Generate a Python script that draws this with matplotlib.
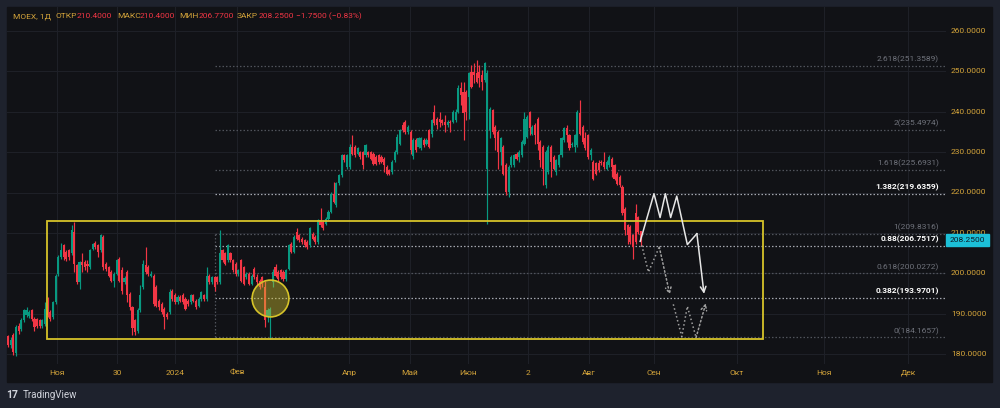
import numpy as np
import matplotlib
matplotlib.use("Agg")
import matplotlib.pyplot as plt
from matplotlib.patches import Rectangle
from matplotlib.transforms import blended_transform_factory

plt.rcParams['font.family'] = ['Roboto', 'DejaVu Sans']

# --- daily candles MOEX ---
opens = [184.4, 182.2, 184.6, 180.3, 187.0, 186.2, 188.3, 189.6, 189.5, 190.8,
         188.7, 188.7, 188.3, 187.0, 187.5, 190.8, 190.4, 189.1, 192.8, 199.9,
         204.0, 206.9, 205.3, 205.7, 204.9, 210.2, 202.0, 197.8, 202.8, 202.8,
         202.4, 201.5, 206.1, 207.6, 206.9, 205.7, 209.0, 202.4, 201.5, 200.3,
         198.2, 199.9, 203.6, 200.7, 197.8, 200.3, 194.9, 191.6, 188.3, 185.8,
         190.8, 196.6, 202.0, 201.5, 199.4, 199.4, 196.6, 193.2, 192.4, 191.2,
         190.0, 190.4, 195.7, 194.5, 192.8, 194.1, 194.5, 193.7, 193.2, 192.8,
         194.5, 193.2, 192.0, 193.7, 194.5, 193.7, 199.4, 197.8, 199.0, 199.0,
         197.8, 205.7, 204.9, 203.2, 204.9, 203.2, 202.4, 199.9, 203.2, 201.5,
         199.0, 199.9, 197.4, 201.1, 199.0, 198.2, 199.0, 196.6, 189.1, 189.5,
         197.8, 201.5, 200.3, 200.7, 200.3, 198.6, 201.1, 207.3, 205.3, 210.2,
         209.4, 208.6, 208.2, 207.7, 206.9, 209.8, 209.0, 207.7, 213.1, 212.7,
         212.3, 213.5, 215.2, 219.7, 216.9, 222.3, 224.3, 229.2, 226.3, 226.3,
         231.3, 231.3, 229.6, 230.0, 230.0, 229.2, 230.0, 230.0, 229.6, 228.8,
         229.2, 228.8, 228.4, 226.3, 225.5, 225.1, 228.0, 230.1, 232.1, 236.7,
         237.5, 235.0, 235.0, 229.0, 232.9, 231.3, 230.9, 232.9, 232.1, 235.4,
         234.6, 240.0, 238.3, 238.3, 237.9, 237.5, 236.7, 237.5, 237.5, 237.9,
         240.0, 245.8, 244.9, 244.9, 243.7, 249.9, 249.9, 249.5, 249.9, 249.1,
         247.8, 225.9, 235.4, 240.4, 236.3, 235.0, 230.1, 231.3, 226.8, 220.1,
         226.8, 226.8, 229.6, 228.8, 229.2, 232.1, 233.8, 240.0, 234.6, 236.7,
         238.3, 232.5, 231.3, 221.8, 225.1, 231.3, 228.8, 225.1, 226.7, 229.2,
         233.0, 235.9, 234.2, 231.7, 231.3, 231.7, 239.6, 236.3, 233.4, 234.2,
         229.2, 227.6, 227.2, 227.2, 227.6, 227.6, 225.9, 226.7, 228.4, 226.7,
         224.7, 223.9, 221.4, 216.0, 211.9, 211.5, 209.4, 214.8, 213.9, 210.4]
highs = [184.8, 184.2, 185.2, 187.3, 187.6, 188.8, 191.2, 191.6, 191.0, 191.2,
         189.2, 189.0, 188.6, 188.7, 192.8, 194.0, 191.0, 193.2, 199.8, 204.5,
         207.6, 207.3, 205.8, 206.1, 211.9, 212.7, 202.4, 203.0, 205.0, 203.2,
         203.2, 206.1, 207.6, 208.1, 207.2, 209.8, 209.4, 202.8, 201.8, 200.8,
         200.3, 203.6, 204.0, 201.5, 199.2, 200.7, 195.3, 192.0, 188.7, 191.4,
         197.0, 203.2, 206.5, 202.0, 200.5, 199.9, 197.0, 193.6, 192.8, 191.6,
         190.4, 196.2, 196.2, 195.0, 194.5, 194.5, 195.0, 194.1, 193.6, 194.9,
         194.9, 193.6, 194.1, 195.7, 194.9, 201.5, 199.9, 199.4, 199.4, 199.4,
         210.6, 206.1, 205.3, 207.3, 205.3, 203.6, 202.8, 201.1, 203.6, 201.9,
         200.3, 200.3, 199.9, 201.5, 199.9, 198.6, 199.4, 198.2, 191.4, 191.6,
         201.1, 202.4, 200.7, 201.1, 200.7, 201.1, 207.3, 207.7, 209.4, 211.1,
         209.8, 209.0, 208.6, 208.2, 211.5, 210.2, 209.4, 213.5, 216.1, 213.1,
         213.9, 215.6, 220.2, 222.6, 222.6, 224.7, 229.6, 229.6, 229.6, 232.1,
         234.2, 231.7, 231.3, 230.4, 230.4, 232.1, 230.4, 230.4, 230.0, 229.2,
         229.6, 229.2, 228.8, 226.8, 225.9, 228.0, 230.5, 234.6, 235.8, 237.5,
         237.9, 236.7, 235.4, 233.4, 233.4, 233.8, 233.8, 233.4, 233.4, 235.8,
         238.3, 241.6, 238.7, 240.0, 238.3, 239.2, 237.9, 237.9, 240.4, 240.8,
         246.6, 247.4, 247.4, 245.4, 249.9, 251.6, 252.0, 252.8, 251.6, 250.3,
         252.4, 250.3, 241.2, 240.8, 236.7, 235.4, 233.8, 231.7, 227.2, 226.8,
         229.2, 229.6, 230.1, 230.5, 232.9, 240.0, 239.1, 240.2, 236.7, 237.1,
         238.7, 232.9, 231.7, 230.5, 231.7, 231.7, 229.2, 228.4, 229.6, 233.8,
         236.3, 236.7, 234.6, 232.5, 234.6, 240.4, 242.9, 236.7, 235.0, 234.6,
         230.9, 228.0, 227.6, 228.0, 228.0, 230.1, 228.0, 229.2, 228.8, 227.1,
         225.1, 224.3, 221.8, 216.4, 212.3, 211.9, 209.8, 217.2, 214.3, 210.4]
lows = [181.8, 181.5, 179.8, 179.6, 185.0, 185.6, 188.0, 189.2, 189.0, 188.2,
        185.8, 186.5, 186.4, 186.5, 187.0, 189.1, 188.2, 188.7, 192.4, 199.4,
        203.6, 203.4, 203.0, 203.2, 204.5, 200.3, 197.4, 196.0, 200.3, 200.8,
        200.3, 201.0, 205.8, 206.0, 204.0, 205.3, 200.7, 200.6, 199.0, 197.9,
        196.6, 199.5, 197.8, 194.9, 197.4, 192.8, 190.8, 184.6, 184.6, 185.2,
        190.4, 196.0, 199.9, 199.4, 199.0, 192.0, 191.6, 191.0, 190.0, 186.2,
        188.7, 190.0, 193.2, 192.4, 192.4, 192.8, 192.4, 190.8, 192.0, 192.4,
        192.8, 191.2, 191.6, 193.2, 193.2, 193.2, 197.4, 197.4, 195.7, 197.4,
        197.4, 202.8, 202.0, 202.8, 202.8, 200.3, 199.4, 199.4, 197.8, 197.0,
        198.6, 197.0, 197.0, 198.6, 197.0, 196.0, 196.6, 186.6, 188.0, 183.6,
        196.6, 199.0, 198.2, 198.6, 198.2, 198.2, 200.7, 204.9, 204.9, 208.2,
        207.7, 207.3, 206.5, 206.1, 206.5, 208.2, 207.3, 207.3, 211.5, 210.6,
        211.9, 213.1, 214.8, 217.3, 216.5, 221.9, 223.9, 227.6, 225.9, 225.9,
        229.2, 228.8, 229.2, 228.4, 225.9, 228.8, 228.8, 228.0, 226.7, 226.7,
        227.1, 227.2, 225.1, 224.3, 224.3, 224.7, 227.6, 229.6, 231.7, 235.0,
        234.6, 234.6, 229.6, 228.4, 230.1, 230.9, 230.5, 231.3, 231.7, 230.9,
        233.8, 236.7, 235.8, 236.3, 236.7, 235.0, 236.3, 235.0, 237.1, 237.5,
        239.6, 241.6, 233.0, 238.0, 238.3, 245.8, 247.0, 247.0, 246.2, 245.4,
        247.4, 212.3, 233.4, 234.6, 230.5, 225.9, 226.8, 224.3, 219.3, 218.9,
        226.3, 226.3, 228.0, 227.6, 228.8, 231.7, 233.4, 234.2, 234.2, 232.1,
        230.5, 226.3, 221.8, 221.0, 224.7, 223.9, 225.5, 224.3, 226.3, 228.8,
        232.5, 232.5, 230.5, 231.3, 230.1, 231.3, 234.2, 232.1, 230.5, 228.4,
        228.0, 223.0, 224.3, 225.1, 226.7, 225.9, 225.5, 226.3, 223.9, 223.0,
        221.8, 221.4, 214.4, 209.4, 207.3, 207.3, 203.6, 207.3, 209.8, 206.77]
closes = [182.2, 183.5, 180.6, 186.6, 185.6, 188.3, 190.8, 190.8, 190.4, 188.7,
          186.6, 187.0, 187.0, 188.3, 191.2, 189.6, 188.7, 192.8, 199.4, 204.0,
          205.7, 204.0, 203.6, 204.0, 210.6, 202.4, 197.8, 202.8, 202.0, 201.5,
          201.9, 205.7, 207.3, 206.5, 205.3, 209.4, 201.5, 201.1, 199.4, 198.2,
          199.9, 203.2, 198.2, 195.7, 198.7, 194.5, 191.6, 186.4, 185.4, 190.8,
          194.5, 202.4, 200.3, 199.9, 199.9, 192.4, 192.0, 191.6, 190.4, 189.1,
          189.1, 195.3, 193.7, 192.8, 194.1, 193.2, 192.8, 191.2, 192.4, 194.5,
          193.2, 191.6, 193.7, 195.3, 193.7, 199.4, 197.8, 199.0, 196.6, 197.8,
          204.9, 203.2, 202.4, 206.9, 203.2, 200.7, 199.9, 200.7, 198.2, 197.4,
          199.9, 197.4, 199.4, 199.0, 197.8, 196.6, 197.4, 188.3, 190.8, 191.2,
          200.3, 199.4, 198.6, 199.0, 198.6, 200.7, 206.9, 205.3, 209.0, 208.6,
          208.2, 207.7, 206.9, 206.5, 211.1, 208.6, 207.7, 213.1, 211.9, 211.1,
          213.5, 215.2, 219.7, 217.7, 222.3, 224.3, 229.2, 228.0, 229.2, 231.3,
          229.6, 229.2, 230.9, 228.8, 226.7, 231.7, 229.2, 228.4, 227.1, 227.1,
          227.6, 227.6, 226.8, 224.7, 224.7, 227.6, 230.1, 233.8, 235.4, 235.4,
          235.0, 236.3, 230.5, 232.9, 230.5, 233.4, 233.4, 231.7, 232.9, 231.3,
          237.9, 237.1, 236.7, 237.5, 237.1, 236.7, 237.5, 237.1, 240.0, 240.0,
          245.8, 244.1, 239.6, 240.0, 249.5, 246.2, 249.1, 247.4, 248.3, 247.4,
          252.0, 249.5, 240.8, 235.0, 233.4, 230.1, 233.4, 224.7, 220.1, 226.3,
          228.8, 229.2, 228.4, 230.1, 232.5, 238.3, 238.7, 235.9, 236.3, 234.2,
          232.1, 228.0, 225.9, 230.1, 231.3, 227.6, 225.9, 228.0, 229.2, 233.4,
          235.9, 234.2, 230.9, 232.1, 234.2, 239.9, 234.6, 232.5, 230.9, 228.8,
          230.5, 223.4, 224.7, 225.5, 227.2, 226.3, 227.6, 228.8, 226.3, 223.4,
          222.2, 221.8, 214.8, 210.6, 209.4, 207.7, 206.5, 207.7, 210.2, 208.25]

price_ticks = [180, 190, 200, 210, 220, 230, 240, 250, 260]
time_labels = ['Ноя', '30', '2024', 'Фев', 'Апр', 'Май', 'Июн', '2', 'Авг', 'Сен', 'Окт', 'Ноя', 'Дек']
time_label_px = [57, 117, 175, 237, 349, 410, 468, 528, 589, 654, 737, 824, 908]

fib_ratios = ['0', '0.382', '0.618', '0.88', '1', '1.382', '1.618', '2', '2.618']
fib_prices = [184.1657, 193.9701, 200.0272, 206.7517, 209.8316, 219.6359, 225.6931, 235.4974, 251.3589]
fib_hot = ['0.382', '0.88', '1.382']

# drawings: x in bars after the last candle, y in price
solid_x = [-0.3, 4.9, 7.2, 9.2, 11.2, 13.5, 17.5, 21.1, 23.8]
solid_y = [207.9, 219.7, 213.8, 219.7, 213.8, 219.1, 207.1, 209.8, 194.9]
dot1_x = [0.3, 2.8, 6.9, 10.9]
dot1_y = [206.9, 200.3, 206.5, 194.7]
dot2_x = [12.2, 15.4, 17.5, 20.8, 24.5]
dot2_y = [192.3, 184.3, 191.8, 184.1, 192.6]

box_prices = (183.6, 212.85)
last_price = 208.25

# --- layout (pixels of the 1000x408 picture) ---
W, H = 1000, 408
N = len(closes)
X0, XN = 8, 641               # pixel of first / last candle
DX = (XN - X0) / (N - 1)
PY260, PXPU = 31, 4.0375      # y pixel of 260 and pixels per price unit


def px2bar(p):
    return (p - X0) / DX


def py2price(p):
    return 260 - (p - PY260) / PXPU


def fx(p):
    return p / W


def fy(p):
    return 1 - p / H


outer_bg = '#1e222d'
chart_bg = '#111216'
grid_c = '#1e2027'
gold = '#d4a43a'
red = '#f23645'
green = '#089981'
yellow = '#d6c329'

fig = plt.figure(figsize=(W / 100, H / 100), dpi=100, facecolor=outer_bg)
fig.patches.append(Rectangle((fx(7), fy(382)), fx(992) - fx(7), fy(7) - fy(382),
                             transform=fig.transFigure, color=chart_bg, zorder=-10))

ax = fig.add_axes([fx(7), fy(364), fx(946) - fx(7), fy(7) - fy(364)])
ax.set_zorder(1)
ax.set_facecolor(chart_bg)
ax.set_xlim(px2bar(7), px2bar(946))
ax.set_ylim(py2price(364), py2price(7))
for s in ax.spines.values():
    s.set_visible(False)
ax.set_xticks([])
ax.set_yticks([])

# grid
for p in price_ticks:
    ax.axhline(p, color=grid_c, lw=0.8, zorder=0)
for p in time_label_px:
    ax.axvline(px2bar(p), color=grid_c, lw=0.8, zorder=0)

# candles
o = np.array(opens)
h = np.array(highs)
l = np.array(lows)
c = np.array(closes)
x = np.arange(N)
cols = np.where(c >= o, green, red)
ax.vlines(x, l, h, colors=cols, lw=0.85, zorder=3)
ax.bar(x, np.maximum(np.abs(c - o), 0.2), bottom=np.minimum(o, c), width=0.8,
       color=cols, linewidth=0, zorder=3)

# fib levels
fib_x0 = px2bar(215)
x_right = px2bar(946)
for r, v in zip(fib_ratios, fib_prices):
    hot = r in fib_hot
    ax.hlines(v, fib_x0, x_right, colors='#a3a6ae' if hot else '#50535b',
              linestyles=(0, (1.2, 1.6)), lw=0.9, zorder=2)
    ax.annotate(f'{r}({v:.4f})', (px2bar(939), v), xytext=(0, 2.5),
                textcoords='offset pixels', ha='right', va='bottom', fontsize=6,
                color='#ffffff' if hot else '#6f727b',
                fontweight='bold' if hot else 'normal', zorder=4)
ax.vlines(fib_x0, fib_prices[0], fib_prices[4], colors='#50535b',
          linestyles=(0, (1.2, 1.6)), lw=0.9, zorder=2)

# yellow range box
ax.add_patch(Rectangle((px2bar(47), box_prices[0]), px2bar(763) - px2bar(47),
                       box_prices[1] - box_prices[0], fill=False,
                       edgecolor=yellow, lw=1.3, zorder=5))

# circle around the February low
ax.plot([97.0 + 2.0], [193.75], 'o', ms=26.5, mfc=(0.82, 0.76, 0.18, 0.42),
        mec=yellow, mew=1.2, zorder=6)

# projection paths
last = N - 1
sx = [last + v for v in solid_x]
ax.plot(sx[:-1], solid_y[:-1], color='#e6e6e6', lw=1.1, zorder=7)
ax.annotate('', xy=(sx[-1], solid_y[-1]), xytext=(sx[-2], solid_y[-2]),
            arrowprops=dict(arrowstyle='->', color='#e6e6e6', lw=1.1,
                            shrinkA=0, shrinkB=0), zorder=7)
for px_, py_ in ((dot1_x, dot1_y), (dot2_x, dot2_y)):
    dx_ = [last + v for v in px_]
    ax.plot(dx_[:-1], py_[:-1], color='#a0a0a0', lw=1.1, ls=':', zorder=7)
    ax.annotate('', xy=(dx_[-1], py_[-1]), xytext=(dx_[-2], py_[-2]),
                arrowprops=dict(arrowstyle='->', color='#a0a0a0', lw=1.1,
                                ls=':', shrinkA=0, shrinkB=0), zorder=7)

# price axis labels
tr = blended_transform_factory(ax.transAxes, ax.transData)
x_lab = (951 - 7) / (946 - 7)
for p in price_ticks:
    ax.text(x_lab, p, f'{p:.4f}', transform=tr, ha='left', va='center',
            fontsize=6, color=gold, clip_on=False)

# last price tag
fig.patches.append(Rectangle((fx(946), fy(246)), fx(989) - fx(946), fy(234) - fy(246),
                             transform=fig.transFigure, color='#1cc0d8', zorder=10))
fig.text(fx(967.5), fy(240), f'{last_price:.4f}', ha='center', va='center',
         fontsize=6, color='#0d1b26', zorder=11)

# time axis labels
for lab, p in zip(time_labels, time_label_px):
    fig.text(fx(p), fy(373), lab, ha='center', va='center', fontsize=6, color=gold)

# header
header = [('MOEX, 1Д', 13, gold), ('ОТКР', 56, gold), ('210.4000', 77, red),
          ('МАКС', 117, gold), ('210.4000', 140, red), ('МИН', 179, gold),
          ('206.7700', 198.5, red), ('ЗАКР', 237, gold), ('208.2500', 258.5, red),
          ('\u22121.7500 (\u22120.83%)', 296, red)]
for t, p, col in header:
    fig.text(fx(p), fy(16.5), t, ha='left', va='center', fontsize=6, color=col,
             zorder=12)

# TradingView logo
fig.text(fx(6), fy(395), '17', ha='left', va='center', fontsize=7.5,
         fontweight='bold', color='#d1d4dc')
fig.text(fx(23), fy(395), 'TradingView', ha='left', va='center', fontsize=7,
         color='#d1d4dc')

fig.savefig('out.png', dpi=100, facecolor=outer_bg)
